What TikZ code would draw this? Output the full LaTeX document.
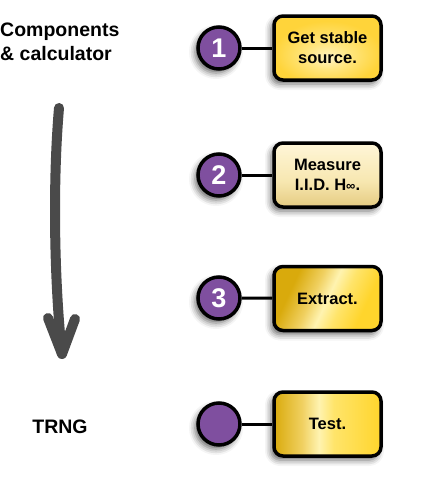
\documentclass[tikz,border=0pt]{standalone}
\usepackage{fontspec}
\setmainfont{Liberation Sans}
\usetikzlibrary{shadows.blur}
\definecolor{arrowgray}{HTML}{4A4A4A}
\definecolor{purp}{HTML}{7F4F9F}
\definecolor{gold2}{HTML}{FFD43A}
\definecolor{glow}{HTML}{FFF4C4}
\definecolor{glow2}{HTML}{FFE680}
\definecolor{ctop}{HTML}{FFF6D8}
\definecolor{cmid}{HTML}{F7E7B0}
\definecolor{cmid2}{HTML}{E2C77A}
\definecolor{cbot}{HTML}{A8841E}
\definecolor{g1}{HTML}{D9AA0C}
\definecolor{g1b}{HTML}{F0D060}
\definecolor{glight}{HTML}{FFF3B0}
\definecolor{g2}{HTML}{FFE46A}
\definecolor{g3}{HTML}{FFD52C}
\pgfdeclareradialshading{goldradial}{\pgfpoint{0bp}{-8bp}}{color(0bp)=(glow); color(10bp)=(glow2); color(25bp)=(gold2); color(50bp)=(gold2)}
\pgfdeclareverticalshading{creamgold}{100bp}{color(0bp)=(cbot); color(22bp)=(cmid2); color(45bp)=(cmid); color(75bp)=(ctop); color(100bp)=(ctop)}
\pgfdeclarehorizontalshading{streak}{100bp}{color(0bp)=(g1); color(30bp)=(g1); color(42bp)=(g1b); color(50bp)=(glight); color(58bp)=(g2); color(70bp)=(g3); color(100bp)=(g3)}
\pgfdeclarehorizontalshading{streakB}{100bp}{color(0bp)=(g1); color(25bp)=(g1); color(38bp)=(g1b); color(46bp)=(glight); color(53bp)=(g2); color(75bp)=(g3); color(100bp)=(g3)}
\begin{document}
\begin{tikzpicture}[x=1pt,y=1pt,
  numc/.style={circle, draw=black, line width=3.5pt, fill=purp, minimum size=42pt, inner sep=0pt,
     text=white, font=\bfseries\fontsize{27}{27}\selectfont,
     blur shadow={shadow xshift=-3pt, shadow yshift=-4pt, shadow blur radius=6pt, shadow opacity=60}},
  stepbox/.style={rectangle, rounded corners=9pt, draw=black, line width=3.5pt, minimum width=107pt,
     minimum height=64pt, align=center, font=\bfseries\fontsize{16.5}{20}\selectfont,
     blur shadow={shadow xshift=-3pt, shadow yshift=-4pt, shadow blur radius=6pt, shadow opacity=60}},
  link/.style={line width=3pt, draw=black},
  bigarrow/.style={line width=10pt, draw=arrowgray, line cap=round, line join=round},
  lbl/.style={font=\bfseries\fontsize{19.5}{24}\selectfont, align=left, inner sep=0pt}]
\useasboundingbox (0,0) rectangle (425,-496);

\node[lbl, anchor=north west] (top) at (0,-23) {Components\\\& calculator};
\node[lbl] (trng) at (60,-427) {TRNG};

\coordinate (a0) at (59,-108);
\coordinate (a1) at (62,-354);
\coordinate (al) at (48,-318);
\coordinate (ar) at (75,-319);
\draw[bigarrow] (a0) .. controls (52,-190) and (55,-290) .. (a1);
\draw[bigarrow] (al) -- (a1) -- (ar);

\node[numc] (c1) at (219,-48) {1};
\node[numc] (c2) at (219,-175) {2};
\node[numc] (c3) at (219,-298) {3};
\node[numc] (c4) at (219,-424) {};

\node[stepbox, shading=goldradial] (b1) at (327.5,-48) {Get stable\\source.};
\node[stepbox, shading=creamgold] (b2) at (327.5,-175) {Measure\\I.I.D. H{\fontsize{13}{13}\selectfont ∞}.};
\node[stepbox, shading=streak, shading angle=-25] (b3) at (327.5,-298.5) {Extract.};
\node[stepbox, shading=streakB] (b4) at (327.5,-424) {Test.};

\draw[link] (c1) -- (b1);
\draw[link] (c2) -- (b2);
\draw[link] (c3) -- (b3);
\draw[link] (c4) -- (b4);
\end{tikzpicture}
\end{document}
